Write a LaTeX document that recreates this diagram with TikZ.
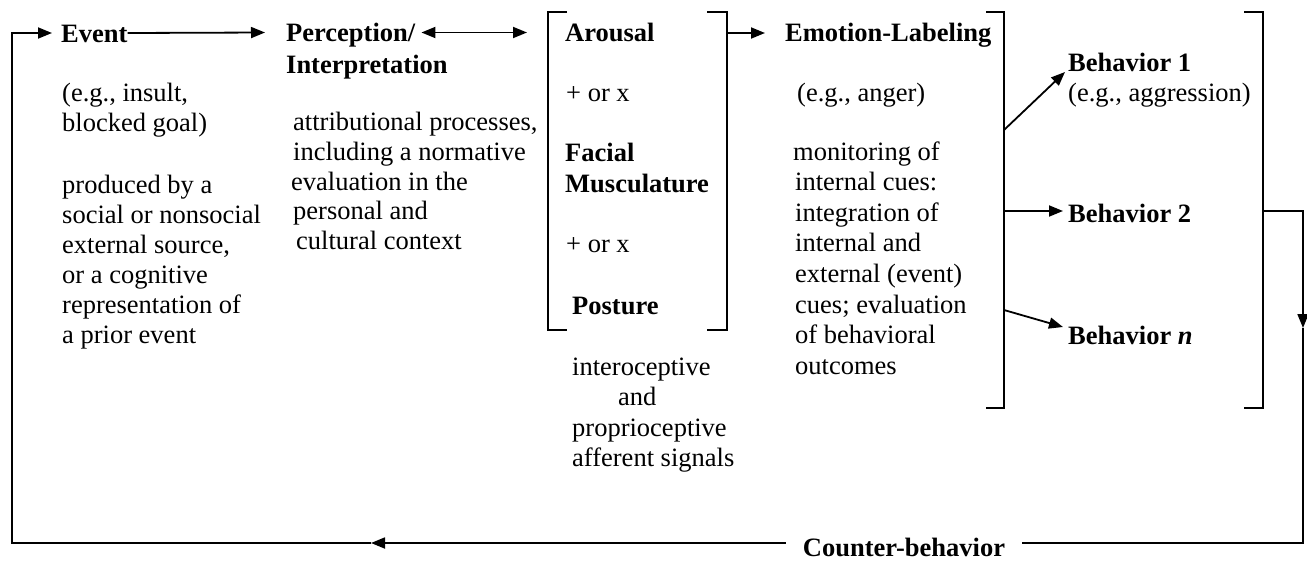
\documentclass[tikz,border=0pt]{standalone}
\usepackage{fontspec}
\setmainfont{Liberation Serif}
\usetikzlibrary{arrows.meta,calc}
\begin{document}
\begin{tikzpicture}[x=1pt,y=-1pt,
  tx/.style={inner sep=0pt, anchor=base west, font=\fontsize{26.5}{30.5}\selectfont},
  hd/.style={tx, font=\fontsize{26.5}{30.5}\selectfont\bfseries},
  ln/.style={line width=1.8pt},
  arr/.style={ln,-{Triangle[length=14pt,width=11pt]}},
  darr/.style={ln,{Triangle[length=14pt,width=11pt]}-{Triangle[length=14pt,width=11pt]}}]
\useasboundingbox (0,0) rectangle (1307,560);
% column 1
\node[hd] (ev) at (61,42) {Event};
\node[tx] (e1) at (62,101.5) {(e.g., insult,};
\node[tx] (e2) at (62,131) {blocked goal)};
\node[tx] (e3) at (62,193.5) {produced by a};
\node[tx] (e4) at (62,223.5) {social or nonsocial};
\node[tx] (e5) at (62,253.5) {external source,};
\node[tx] (e6) at (62,283.5) {or a cognitive};
\node[tx] (e7) at (62,313.5) {representation of};
\node[tx] (e8) at (62,343.5) {a prior event};
% column 2
\node[hd] (per) at (286,41.5) {Perception/};
\node[hd] (int) at (286,73.5) {Interpretation};
\node[tx] (p1) at (293,130) {attributional processes,};
\node[tx] (p2) at (293,160) {including a normative};
\node[tx] (p3) at (291,190) {evaluation in the};
\node[tx] (p4) at (293,219.5) {personal and};
\node[tx] (p5) at (296,249.5) {cultural context};
% column 3
\node[hd] (a1) at (565,41) {Arousal};
\node[tx] (a2) at (566,101) {+ or x};
\node[hd] (a3) at (565,161.5) {Facial};
\node[hd] (a4) at (565,192) {Musculature};
\node[tx] (a5) at (566,252) {+ or x};
\node[hd] (a6) at (572,314.5) {Posture};
\node[tx] (a7) at (572,375) {interoceptive};
\node[tx] (a8) at (618,405) {and};
\node[tx] (a9) at (572,436) {proprioceptive};
\node[tx] (a10) at (572,466) {afferent signals};
% column 4
\node[hd] (m0) at (785,41) {Emotion-Labeling};
\node[tx] (m1) at (797,101.5) {(e.g., anger)};
\node[tx] (m2) at (793,160) {monitoring of};
\node[tx] (m3) at (795,190.5) {internal cues:};
\node[tx] (m4) at (795,221) {integration of};
\node[tx] (m5) at (795,251.5) {internal and};
\node[tx] (m6) at (795,282) {external (event)};
\node[tx] (m7) at (795,313) {cues; evaluation};
\node[tx] (m8) at (795,343.5) {of behavioral};
\node[tx] (m9) at (795,374.5) {outcomes};
% column 5
\node[hd] (b1) at (1068,71.5) {Behavior 1};
\node[tx] (b1e) at (1068,101.5) {(e.g., aggression)};
\node[hd] (b2) at (1068,222.5) {Behavior 2};
\node[hd] (bn) at (1068,344.5) {Behavior \textit{n}};
% counter-behavior
\node[inner xsep=17pt, inner ysep=0pt, anchor=base, font=\fontsize{26.5}{30.5}\selectfont\bfseries] (cb) at (904,556) {Counter-behavior};
% brackets
\coordinate (aTL) at (548,12); \coordinate (aBL) at (548,330);
\coordinate (aTR) at (727,12); \coordinate (aBR) at (727,330);
\coordinate (eTR) at (1004,12); \coordinate (eBR) at (1004,408);
\coordinate (rTR) at (1263,12); \coordinate (rBR) at (1263,408);
\draw[ln] ($(aTL)+(19,0)$) -- (aTL) -- (aBL) -- ($(aBL)+(19,0)$);
\draw[ln] ($(aTR)+(-20,0)$) -- (aTR) -- (aBR) -- ($(aBR)+(-20,0)$);
\draw[ln] ($(eTR)+(-18,0)$) -- (eTR) -- (eBR) -- ($(eBR)+(-18,0)$);
\draw[ln] ($(rTR)+(-19,0)$) -- (rTR) -- (rBR) -- ($(rBR)+(-19,0)$);
% top arrows (at mid cap height of the first row)
\draw[arr] ($(ev.base east)+(0,-9)$) -- ($(per.base west)+(-21,-9)$);
\draw[darr] ($(per.base east)+(6,-9)$) -- ($(aTL |- per.base west)+(-21,-9)$);
\draw[arr] ($(aTR |- m0.base west)+(0,-8)$) -- ($(m0.base west)+(-20,-8)$);
% behaviour arrows
\coordinate (eo1) at (1004,130);
\coordinate (eo2) at (1004,211);
\coordinate (eo3) at (1004,310);
\draw[arr] (eo1) -- ($(b1.base west)+(-3,0.5)$);
\draw[arr] (eo2) -- ($(b2.base west)+(-5,-11.5)$);
\draw[arr] (eo3) -- ($(bn.base west)+(-5,-17.5)$);
% feedback loop
\coordinate (rbm) at (1263,211);
\coordinate (rc) at (1303,211);
\coordinate (rdn) at (1303,328);
\coordinate (rbot) at (1303,543);
\coordinate (ml) at (371,543);
\coordinate (lbot) at (12,543);
\coordinate (ltop) at (12,33);
\draw[arr] (rbm) -- (rc) -- (rdn);
\draw[ln] (rdn) -- (rbot) -- (rbot -| cb.east);
\draw[arr] (cb.west |- lbot) -- (ml);
\draw[arr] (ml) -- (lbot) -- (ltop) -- ($(ev.base west)+(-9,-9)$);
\end{tikzpicture}
\end{document}
